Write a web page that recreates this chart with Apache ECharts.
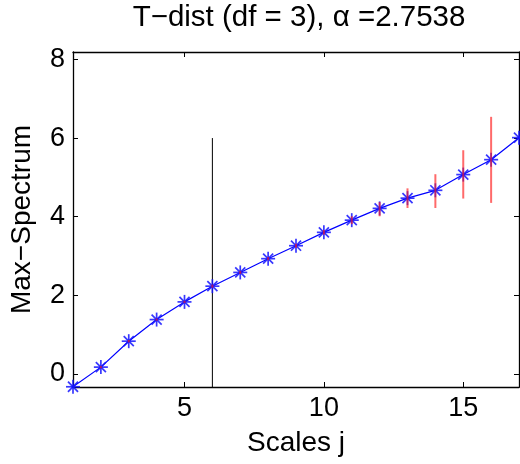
<!DOCTYPE html>
<html>
<head>
<meta charset="utf-8">
<script src="https://cdn.jsdelivr.net/npm/echarts@6/dist/echarts.min.js"></script>
<style>
  html, body { margin: 0; padding: 0; background: #fff; }
  #chart { width: 520px; height: 464px; }
</style>
</head>
<body>
<div id="chart"></div>
<script>
// Scales and the max-spectrum value at each scale
const scales = [1, 2, 3, 4, 5, 6, 7, 8, 9, 10, 11, 12, 13, 14, 15, 16, 17];
const maxSpectrum = [-0.33, 0.17, 0.83, 1.38, 1.83, 2.23, 2.58, 2.93, 3.26, 3.60, 3.91, 4.21, 4.47, 4.67, 5.07, 5.45, 6.01];
// Confidence band (lower / upper) around each value
const bandLow  = [-0.33, 0.14, 0.80, 1.35, 1.80, 2.19, 2.54, 2.89, 3.21, 3.54, 3.81, 4.01, 4.22, 4.22, 4.46, 4.35, 6.01];
const bandHigh = [-0.33, 0.20, 0.86, 1.41, 1.86, 2.27, 2.62, 2.97, 3.31, 3.66, 4.01, 4.37, 4.72, 5.08, 5.69, 6.54, 6.01];
// Cut-off scale marker
const cutScale = 6;
const cutHeight = 6;
// Axis ranges and ticks
const xRange = [1, 17];
const yRange = [-0.336, 8.19];
const xTicks = [5, 10, 15];
const yTicks = [0, 2, 4, 6, 8];

const FONT = '"Liberation Sans", Arial, Helvetica, sans-serif';

const linePts = scales.map((s, i) => [s, maxSpectrum[i]]);
const bandPts = scales.map((s, i) => [s, bandLow[i], bandHigh[i]]);

function boxAxis(position, range, ticks, labelled, extra) {
  return Object.assign({
    type: 'value',
    position: position,
    min: range[0], max: range[1],
    axisLine: { show: true, onZero: false, lineStyle: { color: '#000', width: 1.3 } },
    axisTick: { show: true, inside: true, length: 5, customValues: ticks, lineStyle: { color: '#000', width: 1 } },
    axisLabel: labelled
      ? { customValues: ticks, fontFamily: FONT, fontSize: 27, color: '#000' }
      : { show: false },
    splitLine: { show: false }
  }, extra || {});
}

const chart = echarts.init(document.getElementById('chart'), null, { renderer: 'canvas' });
chart.setOption({
  animation: false,
  backgroundColor: '#fff',
  title: {
    text: 'T\u2212dist (df = 3), \u03b1 =2.7538',
    left: 294, top: -2, textAlign: 'center',
    textStyle: { fontFamily: FONT, fontSize: 29.5, fontWeight: 'normal', color: '#000' }
  },
  grid: { left: 70, right: 1, top: 52, bottom: 77 },
  xAxis: [
    boxAxis('bottom', xRange, xTicks, true, {
      name: 'Scales j', nameLocation: 'middle', nameGap: 42,
      nameTextStyle: { fontFamily: FONT, fontSize: 28, color: '#000' }
    }),
    boxAxis('top', xRange, xTicks, false)
  ],
  yAxis: [
    boxAxis('left', yRange, yTicks, true, {
      name: 'Max\u2212Spectrum', nameLocation: 'middle', nameGap: 37,
      nameTextStyle: { fontFamily: FONT, fontSize: 28, color: '#000' }
    }),
    boxAxis('right', yRange, yTicks, false)
  ],
  series: [
    {
      // vertical cut-off line
      type: 'line',
      data: [[cutScale, yRange[0]], [cutScale, cutHeight]],
      showSymbol: false,
      lineStyle: { color: '#000', width: 1 },
      z: 2
    },
    {
      type: 'line',
      data: linePts,
      showSymbol: false,
      lineStyle: { color: '#0000ff', width: 1.2 },
      z: 3
    },
    {
      // asterisk markers
      type: 'custom',
      data: linePts,
      clip: false,
      z: 4,
      renderItem: function (params, api) {
        const c = api.coord([api.value(0), api.value(1)]);
        const r = 7, d = r * 0.72;
        const segs = [[0, -r, 0, r], [-r, 0, r, 0], [-d, -d, d, d], [-d, d, d, -d]];
        return {
          type: 'group',
          children: segs.map(s => ({
            type: 'line',
            shape: { x1: c[0] + s[0], y1: c[1] + s[1], x2: c[0] + s[2], y2: c[1] + s[3] },
            style: { stroke: '#1414ff', lineWidth: 1.7, opacity: 0.85 }
          }))
        };
      }
    },
    {
      // confidence bars
      type: 'custom',
      data: bandPts,
      clip: true,
      z: 5,
      renderItem: function (params, api) {
        const lo = api.coord([api.value(0), api.value(1)]);
        const hi = api.coord([api.value(0), api.value(2)]);
        if (Math.abs(lo[1] - hi[1]) < 0.5) return null;
        return {
          type: 'line',
          shape: { x1: lo[0], y1: lo[1], x2: hi[0], y2: hi[1] },
          style: { stroke: '#ff1a1a', lineWidth: 2, opacity: 0.65 }
        };
      }
    }
  ]
});
</script>
</body>
</html>
